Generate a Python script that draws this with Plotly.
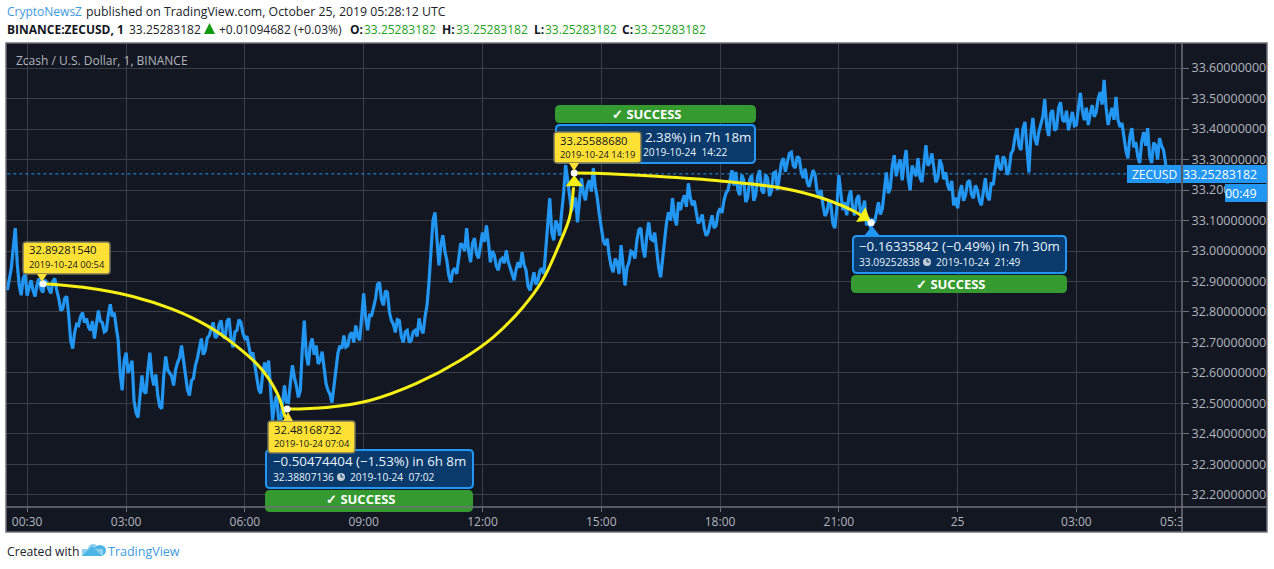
import pandas as pd
import plotly.graph_objects as go

# samples on the 6 minute marks, one row per hour
prices = [
    32.871, 32.943, 33.075, 32.887, 32.910, 32.854, 32.904, 32.851, 32.910, 32.864,
    32.897, 32.861, 32.910, 32.844, 32.811, 32.851, 32.707, 32.733, 32.756, 32.798,
    32.779, 32.740, 32.713, 32.805, 32.765, 32.740, 32.825, 32.798, 32.707, 32.543,
    32.667, 32.618, 32.510, 32.454, 32.592, 32.533, 32.667, 32.559, 32.526, 32.483,
    32.654, 32.602, 32.559, 32.634, 32.690, 32.602, 32.526, 32.582, 32.648, 32.713,
    32.674, 32.723, 32.766, 32.723, 32.772, 32.713, 32.779, 32.684, 32.740, 32.766,
    32.713, 32.690, 32.667, 32.592, 32.533, 32.634, 32.641, 32.444, 32.526, 32.431,
    32.559, 32.503, 32.625, 32.559, 32.543, 32.772, 32.625, 32.713, 32.690, 32.641,
    32.615, 32.543, 32.503, 32.628, 32.690, 32.723, 32.690, 32.733, 32.756, 32.707,
    32.861, 32.740, 32.789, 32.844, 32.897, 32.822, 32.864, 32.772, 32.733, 32.772,
    32.700, 32.740, 32.707, 32.740, 32.779, 32.730, 32.822, 33.015, 33.127, 32.953,
    33.052, 32.969, 32.897, 32.943, 32.976, 33.019, 33.075, 32.963, 33.042, 32.976,
    33.061, 33.084, 32.963, 32.986, 32.937, 32.976, 33.002, 32.943, 32.904, 32.963,
    32.996, 32.937, 32.871, 32.930, 32.904, 32.943, 32.996, 33.173, 33.035, 33.084,
    33.127, 33.282, 33.183, 33.150, 33.094, 33.239, 33.166, 33.232, 33.272, 33.173,
    33.068, 33.019, 32.986, 32.930, 32.963, 33.019, 32.887, 32.963, 32.996, 33.035,
    33.075, 32.979, 33.094, 33.035, 32.996, 32.914, 33.035, 33.127, 33.173, 33.084,
    33.134, 33.183, 33.222, 33.150, 33.127, 33.101, 33.075, 33.061, 33.117, 33.084,
    33.140, 33.166, 33.199, 33.265, 33.259, 33.183, 33.232, 33.176, 33.249, 33.183,
    33.265, 33.189, 33.239, 33.199, 33.259, 33.239, 33.304, 33.291, 33.324, 33.272,
    33.304, 33.239, 33.226, 33.239, 33.249, 33.183, 33.150, 33.127, 33.150, 33.075,
    33.249, 33.134, 33.117, 33.199, 33.117, 33.183, 33.134, 33.084, 33.075, 33.094,
    33.160, 33.140, 33.258, 33.206, 33.314, 33.281, 33.232, 33.331, 33.199, 33.265,
    33.304, 33.226, 33.347, 33.291, 33.272, 33.239, 33.281, 33.258, 33.199, 33.150,
    33.140, 33.216, 33.183, 33.232, 33.173, 33.199, 33.150, 33.239, 33.166, 33.216,
    33.314, 33.265, 33.298, 33.265, 33.331, 33.403, 33.331, 33.423, 33.258, 33.436,
    33.347, 33.413, 33.498, 33.377, 33.462, 33.403, 33.488, 33.423, 33.396, 33.456,
    33.413, 33.518, 33.429, 33.413, 33.478, 33.456, 33.521, 33.561, 33.413, 33.469,
    33.505, 33.406, 33.364, 33.304, 33.403, 33.357, 33.288, 33.390, 33.403, 33.288,
    33.347, 33.370, 33.331, 33.222, 33.253,
]
# samples three minutes after each of those
prices_mid = [
    32.905, 33.010, 32.960, 32.855, 32.925, 32.880, 32.870, 32.890, 32.875, 32.905,
    32.875, 32.900, 32.870, 32.805, 32.845, 32.790, 32.680, 32.760, 32.785, 32.765,
    32.750, 32.770, 32.760, 32.770, 32.735, 32.790, 32.785, 32.750, 32.600, 32.640,
    32.600, 32.640, 32.470, 32.530, 32.540, 32.610, 32.590, 32.595, 32.490, 32.590,
    32.610, 32.590, 32.610, 32.650, 32.640, 32.545, 32.575, 32.625, 32.680, 32.660,
    32.715, 32.745, 32.715, 32.760, 32.720, 32.770, 32.710, 32.735, 32.775, 32.730,
    32.720, 32.655, 32.625, 32.545, 32.600, 32.600, 32.520, 32.500, 32.450, 32.500,
    32.505, 32.570, 32.585, 32.520, 32.680, 32.660, 32.690, 32.660, 32.630, 32.670,
    32.565, 32.530, 32.565, 32.665, 32.680, 32.685, 32.725, 32.700, 32.720, 32.790,
    32.780, 32.790, 32.815, 32.890, 32.840, 32.870, 32.800, 32.760, 32.775, 32.720,
    32.735, 32.700, 32.735, 32.720, 32.745, 32.785, 32.900, 33.100, 33.040, 33.020,
    33.000, 32.920, 32.935, 32.925, 33.025, 33.000, 33.000, 33.025, 32.990, 33.020,
    33.030, 33.030, 33.000, 32.950, 32.970, 32.960, 32.965, 32.925, 32.940, 32.945,
    32.955, 32.885, 32.900, 32.890, 32.935, 32.925, 33.090, 33.060, 33.100, 33.050,
    33.190, 33.220, 33.130, 33.175, 33.170, 33.190, 33.215, 33.195, 33.210, 33.120,
    33.035, 33.040, 32.950, 32.975, 32.925, 32.955, 32.945, 33.000, 32.975, 33.070,
    33.010, 33.050, 33.040, 33.060, 32.945, 32.980, 33.095, 33.100, 33.110, 33.160,
    33.165, 33.145, 33.175, 33.165, 33.090, 33.120, 33.050, 33.095, 33.075, 33.125,
    33.125, 33.190, 33.230, 33.215, 33.200, 33.250, 33.160, 33.235, 33.165, 33.245,
    33.200, 33.250, 33.180, 33.255, 33.200, 33.290, 33.260, 33.320, 33.280, 33.310,
    33.260, 33.270, 33.210, 33.265, 33.195, 33.200, 33.115, 33.165, 33.090, 33.140,
    33.190, 33.160, 33.175, 33.140, 33.170, 33.120, 33.165, 33.110, 33.100, 33.125,
    33.120, 33.200, 33.190, 33.280, 33.245, 33.300, 33.290, 33.240, 33.280, 33.245,
    33.240, 33.300, 33.280, 33.320, 33.225, 33.300, 33.235, 33.215, 33.230, 33.175,
    33.190, 33.165, 33.225, 33.185, 33.215, 33.165, 33.205, 33.180, 33.225, 33.270,
    33.275, 33.310, 33.250, 33.320, 33.375, 33.345, 33.400, 33.340, 33.380, 33.370,
    33.390, 33.440, 33.410, 33.450, 33.395, 33.470, 33.430, 33.460, 33.430, 33.410,
    33.470, 33.460, 33.470, 33.450, 33.440, 33.500, 33.480, 33.470, 33.445, 33.430,
    33.430, 33.420, 33.330, 33.375, 33.340, 33.310, 33.360, 33.345, 33.310, 33.355,
    33.300, 33.345, 33.290, 33.280,
]
series = [v for pair in zip(prices, prices_mid) for v in pair] + [prices[-1]]
times = pd.date_range("2019-10-24 00:00", periods=len(series), freq="3min")
last_price = 33.25283182

curve1_t = ["2019-10-24 00:54", "2019-10-24 01:55", "2019-10-24 03:10", "2019-10-24 04:11", "2019-10-24 05:02",
            "2019-10-24 05:42", "2019-10-24 06:23", "2019-10-24 06:49", "2019-10-24 07:01"]
curve1_p = [32.8928, 32.881, 32.851, 32.8085, 32.756, 32.697, 32.618, 32.533, 32.454]
curve2_t = ["2019-10-24 07:04", "2019-10-24 08:04", "2019-10-24 09:09", "2019-10-24 10:20", "2019-10-24 11:26",
            "2019-10-24 12:16", "2019-10-24 13:01", "2019-10-24 13:31", "2019-10-24 13:57", "2019-10-24 14:12", "2019-10-24 14:18"]
curve2_p = [32.4817, 32.487, 32.51, 32.566, 32.641, 32.717, 32.815, 32.904, 33.025, 33.11, 33.209]
curve3_t = ["2019-10-24 14:19", "2019-10-24 14:50", "2019-10-24 16:24", "2019-10-24 18:04", "2019-10-24 19:35",
            "2019-10-24 20:35", "2019-10-24 21:26", "2019-10-24 21:49"]
curve3_p = [33.2559, 33.255, 33.245, 33.229, 33.206, 33.173, 33.127, 33.0925]

dot_t = ["2019-10-24 00:54", "2019-10-24 07:04", "2019-10-24 14:19", "2019-10-24 21:49"]
dot_p = [32.8928154, 32.48168732, 33.2558868, 33.09252838]
head_t = ["2019-10-24 14:19", "2019-10-24 21:38"]
head_p = [33.225, 33.113]
head_angle = [0, 122]

tick_t = ["2019-10-24 00:30", "2019-10-24 03:00", "2019-10-24 06:00", "2019-10-24 09:00", "2019-10-24 12:00",
          "2019-10-24 15:00", "2019-10-24 18:00", "2019-10-24 21:00", "2019-10-25 00:00", "2019-10-25 03:00", "2019-10-25 05:30"]
tick_l = ["00:30", "03:00", "06:00", "09:00", "12:00", "15:00", "18:00", "21:00", "25", "03:00", "05:30"]
price_ticks = [32.2, 32.3, 32.4, 32.5, 32.6, 32.7, 32.8, 32.9, 33.0, 33.1, 33.2, 33.3, 33.4, 33.5, 33.6]

BG = "#131722"
BORDER = "#6f727b"
GRID = "#3a3e49"
BLUE = "#2196f3"
YELLOW = "#f7f014"
FONT = "Open Sans"

L, R, T, B = 6, 1182, 43, 507


def px(x):
    return (x - L) / (R - L)


def py(y):
    return (B - y) / (B - T)


shapes = []
notes = []


def box(x0, y0, x1, y1, fill, line=None, r=4, width=2):
    a, b, c, d = px(x0), py(y0), px(x1), py(y1)
    rx, ry = r / (R - L), r / (B - T)
    path = (f"M {a + rx} {b} L {c - rx} {b} Q {c} {b} {c} {b - ry} L {c} {d + ry} Q {c} {d} {c - rx} {d} "
            f"L {a + rx} {d} Q {a} {d} {a} {d + ry} L {a} {b - ry} Q {a} {b} {a + rx} {b} Z")
    shapes.append(dict(type="path", xref="paper", yref="paper", path=path, fillcolor=fill, layer="above",
                       line=dict(color=line or fill, width=width if line else 0)))


def rect(x0, y0, x1, y1, fill, layer="above"):
    shapes.append(dict(type="rect", xref="paper", yref="paper", x0=px(x0), x1=px(x1), y0=py(y0), y1=py(y1),
                       fillcolor=fill, line=dict(width=0), layer=layer))


def tri(p1, p2, p3, fill):
    path = f"M {px(p1[0])} {py(p1[1])} L {px(p2[0])} {py(p2[1])} L {px(p3[0])} {py(p3[1])} Z"
    shapes.append(dict(type="path", xref="paper", yref="paper", path=path, fillcolor=fill, layer="above", line=dict(width=0)))


def seg(x0, y0, x1, y1, color, width=1.5):
    shapes.append(dict(type="line", xref="paper", yref="paper", x0=px(x0), x1=px(x1), y0=py(y0), y1=py(y1),
                       line=dict(color=color, width=width), layer="above"))


def text(x, y, s, size=12, color="#131722", anchor="left", bold=False):
    if bold:
        s = f"<b>{s}</b>"
    notes.append(dict(xref="paper", yref="paper", x=px(x), y=py(y), text=s, showarrow=False, xanchor=anchor,
                      yanchor="middle", align=anchor, borderpad=0,
                      font=dict(family=FONT, size=size, color=color)))


def clock(x, y):
    shapes.append(dict(type="circle", xref="paper", yref="paper", x0=px(x - 4), x1=px(x + 4), y0=py(y - 4), y1=py(y + 4),
                       fillcolor="#c3ccd6", line=dict(width=0), layer="above"))
    seg(x, y - 3, x, y, "#0a3a6c", 1)
    seg(x, y, x + 2.5, y, "#0a3a6c", 1)


def yellow_label(x0, y0, x1, y1, value, stamp, tip, down=True):
    box(x0, y0, x1, y1, "#ffe135", "#75735a", r=3, width=1.5)
    if down:
        tri((tip[0] - 5, y1), (tip[0] + 5, y1), tip, "#ffe135")
    else:
        tri((tip[0] - 5, y0), (tip[0] + 5, y0), tip, "#ffe135")
    text(x0 + 5, y0 + 8, value, 11.3)
    text(x0 + 5, y0 + 22, stamp, 9.4)


# background of the whole widget, axis strips included
rect(L, T, 1267, 532, BG, layer="below")

# 24 Oct 07:02 target
box(266, 450, 473, 488, "#0a3a6c", BLUE)
box(265, 490, 473, 512, "#359a2f", r=5)
text(272, 461, "−0.50474404 (−1.53%) in 6h 8m", 13.3, "#e8f2fb")
text(272, 477, "32.38807136", 10.2, "#e8f2fb")
clock(341, 477)
text(349, 477, "2019-10-24  07:02", 10.2, "#e8f2fb")
text(361, 499, "✓ SUCCESS", 13, "#ffffff", "center", True)

# 24 Oct 14:22 target
box(555, 105, 756, 123, "#359a2f", r=5)
box(556, 125, 755, 163, "#0a3a6c", BLUE)
text(647, 114, "✓ SUCCESS", 13, "#ffffff", "center", True)
text(644, 137, "2.38%) in 7h 18m", 13.3, "#e8f2fb")
text(642, 152, "2019-10-24  14:22", 10.2, "#e8f2fb")

# 24 Oct 21:49 target
tri((864, 236), (880, 236), (872, 226), BLUE)
box(853, 236, 1066, 273, "#0a3a6c", BLUE)
box(851, 275, 1067, 293, "#359a2f", r=5)
text(858, 246, "−0.16335842 (−0.49%) in 7h 30m", 13.3, "#e8f2fb")
text(858, 262, "33.09252838", 10.2, "#e8f2fb")
clock(927, 262)
text(935, 262, "2019-10-24  21:49", 10.2, "#e8f2fb")
text(951, 284, "✓ SUCCESS", 13, "#ffffff", "center", True)

yellow_label(23, 242, 110, 274, "32.89281540", "2019-10-24 00:54", (42, 282))
yellow_label(268, 421, 355, 453, "32.48168732", "2019-10-24 07:04", (288, 412), down=False)
yellow_label(554, 132, 641, 163, "33.25588680", "2019-10-24 14:19", (574, 171))

# right axis and bottom axis strips
rect(1182.5, 507.5, 1267, 532, BG)
seg(L, B, 1267, B, BORDER)
seg(R, T, R, 532, BORDER)
shapes.append(dict(type="rect", xref="paper", yref="paper", x0=px(L), x1=px(1267), y0=py(T), y1=py(532),
                   line=dict(color=BORDER, width=1.5), layer="above"))

# last price tags
rect(1127, 165, 1181, 183, BLUE)
rect(1183, 165, 1267, 183, BLUE)
rect(1225, 184, 1267, 202, BLUE)
text(1154, 174, "ZECUSD", 12, "#ffffff", "center")
text(1258, 174, "33.25283182", 12.4, "#ffffff", "right")
text(1258, 193, "00:49", 12.4, "#ffffff", "right")

# header and footer
text(6, 12, "CryptoNewsZ", 12, "#3d9be0")
text(85, 12, "published on TradingView.com, October 25, 2019 05:28:12 UTC", 12.3, "#20232a")
text(6, 29, "BINANCE:ZECUSD, 1", 12, "#131722", bold=True)
text(128, 29, "33.25283182", 12, "#20232a")
tri((204, 34), (215, 34), (209.5, 23), "#109a10")
text(218, 29, "+0.01094682 (+0.03%)", 12, "#20232a")
text(349, 29, "O:", 12, "#131722", bold=True)
text(363, 29, "33.25283182", 12, "#22a122")
text(441, 29, "H:", 12, "#131722", bold=True)
text(455, 29, "33.25283182", 12, "#22a122")
text(533, 29, "L:", 12, "#131722", bold=True)
text(544, 29, "33.25283182", 12, "#22a122")
text(621, 29, "C:", 12, "#131722", bold=True)
text(633, 29, "33.25283182", 12, "#22a122")
text(15, 60, "Zcash / U.S. Dollar, 1, BINANCE", 12, "#b2b5be")
text(6, 551, "Created with", 12.2, "#20232a")
text(107, 551, "TradingView", 12.5, "#3d9be0")

# logo
shapes.append(dict(type="circle", xref="paper", yref="paper", x0=px(88), x1=px(98), y0=py(544), y1=py(554),
                   fillcolor="#8fd0ee", line=dict(width=0), layer="above"))
shapes.append(dict(type="circle", xref="paper", yref="paper", x0=px(94), x1=px(106), y0=py(545), y1=py(556),
                   fillcolor="#4db4e6", line=dict(width=0), layer="above"))
rect(82, 549, 103, 556, "#8fd0ee")
tri((82, 556), (92, 546), (102, 556), "#4db4e6")

fig = go.Figure()
fig.add_trace(go.Scatter(x=[times[0], times[-1] + pd.Timedelta(hours=1)], y=[last_price, last_price], mode="lines",
                         line=dict(color=BLUE, width=1, dash="dot"), hoverinfo="skip"))
fig.add_trace(go.Scatter(x=times, y=series, mode="lines", line=dict(color=BLUE, width=3.2), name="ZECUSD"))
for t, p in [(curve1_t, curve1_p), (curve2_t, curve2_p), (curve3_t, curve3_p)]:
    fig.add_trace(go.Scatter(x=t, y=p, mode="lines", line=dict(color=YELLOW, width=3, shape="spline"), hoverinfo="skip"))
fig.add_trace(go.Scatter(x=head_t, y=head_p, mode="markers", hoverinfo="skip",
                         marker=dict(symbol="triangle-up", size=15, color=YELLOW, angle=head_angle, line=dict(width=0))))
fig.add_trace(go.Scatter(x=dot_t, y=dot_p, mode="markers", hoverinfo="skip",
                         marker=dict(size=7, color="#ffffff", line=dict(width=0))))

fig.update_layout(
    width=1274, height=569, showlegend=False, paper_bgcolor="#ffffff", plot_bgcolor=BG,
    margin=dict(l=L, r=1274 - R, t=T, b=569 - B, pad=0),
    font=dict(family=FONT, size=12, color="#b2b5be"),
    shapes=shapes, annotations=notes,
)
fig.update_xaxes(type="date", range=["2019-10-23 23:58", "2019-10-25 05:40"], tickvals=tick_t, ticktext=tick_l,
                 ticks="outside", ticklen=4, tickcolor=BORDER, gridcolor=GRID, gridwidth=1, showline=False,
                 zeroline=False, tickfont=dict(family=FONT, size=12, color="#b2b5be"))
fig.update_yaxes(side="right", range=[32.1606, 33.682], tickvals=price_ticks, tickformat=".8f",
                 ticks="outside", ticklen=6, tickcolor=BORDER, gridcolor=GRID, gridwidth=1, showline=False,
                 zeroline=False, tickfont=dict(family=FONT, size=12.5, color="#b2b5be"))

fig.write_html("out.html", config=dict(displayModeBar=False),
               post_script="document.body.style.margin='0';document.body.style.overflow='hidden';")
